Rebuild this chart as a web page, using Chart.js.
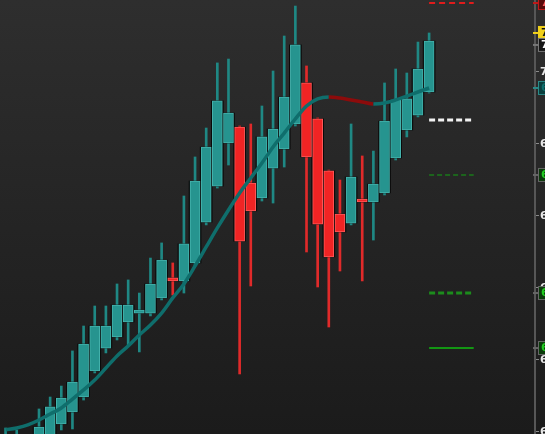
<!DOCTYPE html>
<html>
<head>
<meta charset="utf-8">
<script src="https://cdn.jsdelivr.net/npm/chart.js@4.4.1/dist/chart.umd.min.js"></script>
<style>
  html, body { margin: 0; padding: 0; overflow: hidden; }
  body { width: 545px; height: 434px; background: linear-gradient(#2e2e2e, #1b1b1b); }
  #contenedor { position: relative; width: 545px; height: 434px; }
</style>
</head>
<body>
<div id="contenedor"><canvas id="graficoVelas"></canvas></div>
<script>
// Datos de las velas
const velas = Array.from({ length: 48 }, (_, i) => 'V' + (i + 1));

const aperturas = [67.410, 67.375, 67.340, 67.375, 67.410, 67.556, 67.639, 67.743, 67.924, 68.083,
  68.160, 68.264, 68.326, 68.326, 68.431, 68.563, 68.549, 68.674, 68.958, 69.208,
  69.507, 69.618, 69.229, 69.125, 69.333, 69.465, 69.639, 69.924, 69.674, 69.313,
  69.014, 68.951, 69.111, 69.097, 69.160, 69.403, 69.597, 69.701, 69.861];
const cierres = [67.472, 67.458, 67.410, 67.535, 67.674, 67.736, 67.847, 68.111, 68.236, 68.236,
  68.382, 68.382, 68.333, 68.528, 68.694, 68.549, 68.806, 69.243, 69.479, 69.799,
  69.715, 68.826, 69.035, 69.549, 69.604, 69.826, 70.188, 69.410, 68.944, 68.715,
  68.889, 69.271, 69.097, 69.222, 69.660, 69.806, 69.813, 70.021, 70.215];
const maximos = [67.528, 67.514, 67.458, 67.660, 67.743, 67.819, 68.063, 68.236, 68.375, 68.375,
  68.528, 68.556, 68.465, 68.708, 68.813, 68.674, 69.139, 69.410, 69.611, 70.063,
  70.090, 69.625, 69.639, 69.764, 70.007, 70.250, 70.458, 70.042, 69.681, 69.319,
  69.250, 69.639, 69.417, 69.451, 69.924, 70.021, 69.993, 70.208, 70.271];
const minimos = [67.375, 67.340, 67.306, 67.340, 67.375, 67.514, 67.521, 67.722, 67.910, 68.049,
  68.139, 68.104, 68.056, 68.306, 68.417, 68.451, 68.465, 68.653, 68.938, 69.194,
  69.354, 67.903, 68.514, 69.104, 69.090, 69.340, 69.625, 68.750, 68.507, 68.229,
  68.618, 68.938, 68.549, 68.833, 69.146, 69.389, 69.549, 69.688, 69.854];

// Media móvil
const media = [67.514, 67.528, 67.549, 67.583, 67.625, 67.667, 67.729, 67.792, 67.861, 67.944,
  68.028, 68.097, 68.174, 68.243, 68.326, 68.431, 68.528, 68.653, 68.785, 68.917,
  69.042, 69.160, 69.264, 69.368, 69.479, 69.576, 69.674, 69.764, 69.813, 69.826,
  69.819, 69.806, 69.792, 69.778, 69.785, 69.806, 69.833, 69.861, 69.889];

// Niveles horizontales de la derecha
const nivelRojo = 70.479;
const nivelBlanco = 69.667;
const nivelVerde1 = 69.285;
const nivelVerde2 = 68.465;
const nivelVerde3 = 68.083;

// Etiquetas de colores en el eje
const etiquetas = [
  { valor: 70.479, fondo: '#5a0a0a', borde: '#c01818', texto: '#ff6060' },
  { valor: 70.271, fondo: '#f0d01a', borde: '#f0d01a', texto: '#111111' },
  { valor: 70.188, fondo: '#161616', borde: '#777777', texto: '#ffffff' },
  { valor: 69.889, fondo: '#0b3f3e', borde: '#2a8a88', texto: '#0f6e6c' },
  { valor: 69.285, fondo: '#0b3a0b', borde: '#666666', texto: '#22cc22' },
  { valor: 68.465, fondo: '#0b3a0b', borde: '#666666', texto: '#22cc22' },
  { valor: 68.083, fondo: '#0b3a0b', borde: '#666666', texto: '#22cc22' },
];

const TEAL = '#26948f';
const TEAL_BORDE = '#45b3ad';
const TEAL_MECHA = '#1f8884';
const ROJO = '#f02424';
const ROJO_BORDE = '#ff5a5a';
const ROJO_MECHA = '#e02a2a';

const sube = aperturas.map((a, i) => cierres[i] >= a);
const nivel = v => velas.map((_, i) => (i >= 38 && i <= 42 ? v : null));

const pluginEtiquetas = {
  id: 'etiquetasEje',
  afterDraw(chart) {
    const ctx = chart.ctx;
    const y = chart.scales.y;
    ctx.save();
    ctx.font = 'bold 11px "DejaVu Sans", sans-serif';
    ctx.textBaseline = 'middle';
    etiquetas.forEach(e => {
      const py = y.getPixelForValue(e.valor);
      ctx.fillStyle = e.borde;
      ctx.fillRect(y.left - 2, py - 1, 5, 2);
      ctx.fillStyle = e.fondo;
      ctx.strokeStyle = e.borde;
      ctx.lineWidth = 1;
      ctx.fillRect(y.left + 3.5, py - 6.5, 40, 13);
      ctx.strokeRect(y.left + 3.5, py - 6.5, 40, 13);
      ctx.fillStyle = e.texto;
      ctx.fillText(e.valor.toFixed(2), y.left + 6, py + 0.5);
    });
    ctx.restore();
  }
};

const ctxVelas = document.getElementById('graficoVelas').getContext('2d');

new Chart(ctxVelas, {
  type: 'bar',
  data: {
    labels: velas,
    datasets: [
      {
        type: 'line',
        label: 'Media',
        data: media,
        borderColor: '#0f6e6c',
        borderWidth: 3.5,
        pointRadius: 0,
        tension: 0.4,
        cubicInterpolationMode: 'monotone',
        segment: {
          borderColor: c => (c.p1.parsed.y < c.p0.parsed.y ? '#8c0b0b' : '#0f6e6c')
        },
        order: 0
      },
      {
        label: 'Cuerpos',
        data: aperturas.map((a, i) => [a, cierres[i]]),
        backgroundColor: sube.map(s => (s ? TEAL : ROJO)),
        borderColor: sube.map(s => (s ? TEAL_BORDE : ROJO_BORDE)),
        borderWidth: 1,
        borderSkipped: false,
        barThickness: 10,
        minBarLength: 3,
        grouped: false,
        order: 1
      },
      {
        label: 'Contorno',
        data: aperturas.map((a, i) => [a, cierres[i]]),
        backgroundColor: '#0a0a0a',
        barThickness: 12,
        minBarLength: 3,
        grouped: false,
        order: 2
      },
      {
        label: 'Mechas',
        data: minimos.map((m, i) => [m, maximos[i]]),
        backgroundColor: sube.map(s => (s ? TEAL_MECHA : ROJO_MECHA)),
        barThickness: 2,
        grouped: false,
        order: 3
      },
      { type: 'line', label: 'Rojo', data: nivel(nivelRojo), borderColor: '#e01c1c', borderWidth: 2, borderDash: [6, 4], pointRadius: 0, order: 4 },
      { type: 'line', label: 'Blanco', data: nivel(nivelBlanco), borderColor: '#f2f2f2', borderWidth: 3, borderDash: [6, 3], pointRadius: 0, order: 4 },
      { type: 'line', label: 'Verde1', data: nivel(nivelVerde1), borderColor: '#1a7a1a', borderWidth: 1.5, borderDash: [5, 3], pointRadius: 0, order: 4 },
      { type: 'line', label: 'Verde2', data: nivel(nivelVerde2), borderColor: '#1c8c1c', borderWidth: 3, borderDash: [6, 3], pointRadius: 0, order: 4 },
      { type: 'line', label: 'Verde3', data: nivel(nivelVerde3), borderColor: '#139613', borderWidth: 2, pointRadius: 0, order: 4 }
    ]
  },
  options: {
    responsive: true,
    maintainAspectRatio: false,
    animation: false,
    layout: { padding: 0 },
    plugins: {
      legend: { display: false },
      tooltip: { enabled: false }
    },
    scales: {
      x: {
        display: false,
        offset: true
      },
      y: {
        position: 'right',
        min: 67.4861,
        max: 70.5,
        afterFit: scale => {
          scale.width = 10;
          scale.paddingTop = 0;
          scale.paddingBottom = 0;
        },
        afterBuildTicks: scale => {
          scale.ticks = scale.ticks.filter(t => t.value < 70.4);
        },
        ticks: {
          stepSize: 0.5,
          includeBounds: false,
          padding: 1,
          color: '#e6e6e6',
          font: { family: 'DejaVu Sans', size: 11, weight: 'bold' },
          callback: v => Number(v).toFixed(2)
        },
        grid: {
          drawOnChartArea: false,
          drawTicks: true,
          tickLength: 4,
          color: '#8a8a8a'
        },
        border: {
          display: true,
          color: '#575757',
          width: 2
        }
      }
    }
  },
  plugins: [pluginEtiquetas]
});
</script>
</body>
</html>
